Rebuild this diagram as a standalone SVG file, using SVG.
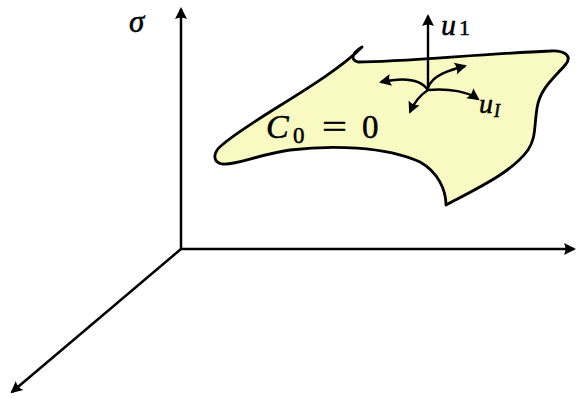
<svg xmlns="http://www.w3.org/2000/svg" width="577" height="398" viewBox="0 0 577 398">
<style>
.ax{fill:none;stroke:#000;stroke-width:2.5;}
.ar{fill:none;stroke:#000;stroke-width:2.4;}
.t{font-family:"Liberation Serif","DejaVu Serif",serif;fill:#000;stroke:#000;stroke-width:0.5;}
.i{font-style:italic;}
</style>
<defs>
<marker id="h" markerUnits="userSpaceOnUse" markerWidth="16" markerHeight="14" viewBox="-12 -7 16 14" refX="0" refY="0" orient="auto">
<path d="M2,0 L-10,-6 Q-7,0 -10,6 Z" fill="#000"/>
</marker>
</defs>
<g id="axes">
<line class="ax" x1="181" y1="250" x2="181" y2="9" marker-end="url(#h)"/>
<line class="ax" x1="180" y1="249" x2="574" y2="249" marker-end="url(#h)"/>
<line class="ax" x1="181" y1="249" x2="12" y2="392" marker-end="url(#h)"/>
</g>
<g id="surface">
<path d="M362,47 C352,53 350,60 358,62 C400,62 480,54 550,51 C565,50 572,56 566,64 C556,76 540,88 537,108 C534,128 536,138 528,150 C512,172 480,187 446,205 C446,190 438,172 420,162 C385,146 330,145 290,150 C260,154 235,166 222,164 C212,162 213,152 222,145 C250,120 330,80 362,47 Z" fill="#f9f9c3" stroke="#000" stroke-width="2.8" stroke-linejoin="round"/>
</g>
<g id="connectors">
<line class="ar" x1="428" y1="90" x2="428" y2="16" marker-end="url(#h)"/>
<path class="ar" d="M428,90 C420,78 400,78 381,82" marker-end="url(#h)"/>
<path class="ar" d="M428,88 C432,75 450,70 465,66" marker-end="url(#h)"/>
<path class="ar" d="M428,90 C420,95 414,103 410,112" marker-end="url(#h)"/>
<path class="ar" d="M428,90 C450,88 468,92 478,99" marker-end="url(#h)"/>
</g>
<g id="labels">
<text class="t i" x="129" y="32" font-size="31">σ</text>
<text class="t i" x="441" y="35" font-size="30">u</text>
<text class="t" x="459" y="35" font-size="22">1</text>
<text class="t i" x="479" y="113" font-size="28">u</text>
<text class="t i" x="494" y="117" font-size="18">I</text>
<text class="t i" x="266" y="138" font-size="34">C</text>
<text class="t" x="293" y="143" font-size="23">0</text>
<text class="t" x="322" y="138" font-size="33" textLength="25" lengthAdjust="spacingAndGlyphs">=</text>
<text class="t" x="362" y="138" font-size="33">0</text>
</g>
</svg>
